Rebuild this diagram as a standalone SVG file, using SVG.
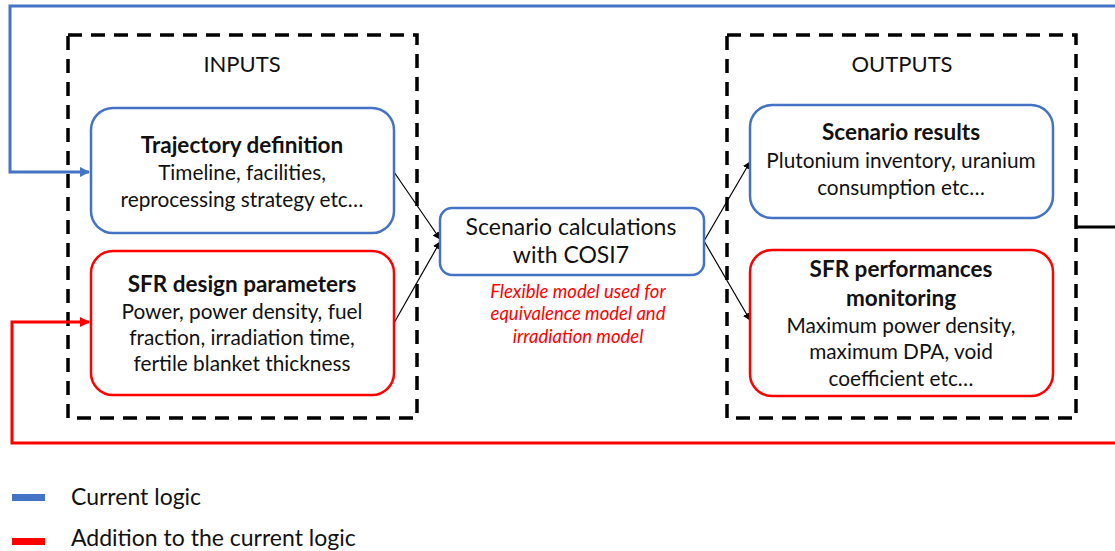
<svg xmlns="http://www.w3.org/2000/svg" width="1115" height="551" viewBox="0 0 1115 551">
<style>
text{font-family:Lato,"Open Sans","Liberation Sans",sans-serif;fill:#111;text-anchor:middle}
.h{font-size:22px}
.c{font-size:23px}
.b{font-size:22.5px;font-weight:bold}
.s{font-size:20.8px}
.note{font-size:18.5px;font-style:italic;fill:#ff0000}
.dash{fill:none;stroke:#000;stroke-width:3.5;stroke-dasharray:14 9}
.bluebox{fill:#fff;stroke:#4472c4;stroke-width:2.5}
.redbox{fill:#fff;stroke:#ff0000;stroke-width:2.5}
.thin{fill:none;stroke:#000;stroke-width:1.2}
</style>
<defs>
<marker id="ab" markerWidth="10" markerHeight="10" refX="9" refY="5" orient="auto" markerUnits="userSpaceOnUse" viewBox="0 0 10 10"><path d="M0,0 L10,5 L0,10 z" fill="#4472c4"/></marker>
<marker id="ar" markerWidth="10" markerHeight="10" refX="9" refY="5" orient="auto" markerUnits="userSpaceOnUse" viewBox="0 0 10 10"><path d="M0,0 L10,5 L0,10 z" fill="#ff0000"/></marker>
<marker id="ak" markerWidth="8" markerHeight="8" refX="7" refY="4" orient="auto" markerUnits="userSpaceOnUse" viewBox="0 0 8 8"><path d="M0,0 L8,4 L0,8 z" fill="#000"/></marker>
</defs>
<rect width="1115" height="551" fill="#fff"/>
<g id="inputs-group">
<rect class="dash" x="68" y="35" width="349" height="383"/>
<text class="h" x="242" y="72">INPUTS</text>
</g>
<g id="outputs-group">
<rect class="dash" x="727" y="35" width="349" height="383"/>
<text class="h" x="902" y="72">OUTPUTS</text>
</g>
<g id="connectors">
<polyline points="1115,6 10,6 10,172 89,172" fill="none" stroke="#4472c4" stroke-width="3" marker-end="url(#ab)"/>
<polyline points="1115,443 12,443 12,322 89,322" fill="none" stroke="#ff0000" stroke-width="3" marker-end="url(#ar)"/>
<line x1="1076" y1="227" x2="1115" y2="227" stroke="#000" stroke-width="3"/>
<line class="thin" x1="394" y1="172" x2="440" y2="239" marker-end="url(#ak)"/>
<line class="thin" x1="394" y1="323" x2="440" y2="242" marker-end="url(#ak)"/>
<line class="thin" x1="704" y1="241" x2="750" y2="162" marker-end="url(#ak)"/>
<line class="thin" x1="704" y1="241" x2="750" y2="320" marker-end="url(#ak)"/>
</g>
<g id="trajectory">
<rect class="bluebox" x="91" y="108" width="303" height="125" rx="22"/>
<text class="b" x="242" y="153">Trajectory definition</text>
<text class="s" x="242" y="180">Timeline, facilities,</text>
<text class="s" x="242" y="207">reprocessing strategy etc…</text>
</g>
<g id="sfr-design">
<rect class="redbox" x="91" y="251" width="303" height="144" rx="22"/>
<text class="b" x="242" y="292">SFR design parameters</text>
<text class="s" x="242" y="319">Power, power density, fuel</text>
<text class="s" x="242" y="345">fraction, irradiation time,</text>
<text class="s" x="242" y="371">fertile blanket thickness</text>
</g>
<g id="scenario-calc">
<rect class="bluebox" x="440" y="208" width="264" height="67" rx="12"/>
<text class="c" x="571" y="235">Scenario calculations</text>
<text class="c" x="571" y="263">with COSI7</text>
<text class="note" x="578" y="298">Flexible model used for</text>
<text class="note" x="578" y="320">equivalence model and</text>
<text class="note" x="578" y="343">irradiation model</text>
</g>
<g id="scenario-results">
<rect class="bluebox" x="750" y="105" width="303" height="113" rx="22"/>
<text class="b" x="901" y="140">Scenario results</text>
<text class="s" x="901" y="168">Plutonium inventory, uranium</text>
<text class="s" x="901" y="195">consumption etc…</text>
</g>
<g id="sfr-performances">
<rect class="redbox" x="750" y="250" width="303" height="146" rx="22"/>
<text class="b" x="901" y="277">SFR performances</text>
<text class="b" x="901" y="306">monitoring</text>
<text class="s" x="901" y="333">Maximum power density,</text>
<text class="s" x="901" y="359">maximum DPA, void</text>
<text class="s" x="901" y="386">coefficient etc…</text>
</g>
<g id="legend">
<rect x="12" y="494" width="33" height="7" fill="#4472c4"/>
<text class="c" x="71" y="505" style="text-anchor:start">Current logic</text>
<rect x="12" y="538" width="33" height="7" fill="#ff0000"/>
<text class="c" x="71" y="546" style="text-anchor:start">Addition to the current logic</text>
</g>
</svg>
